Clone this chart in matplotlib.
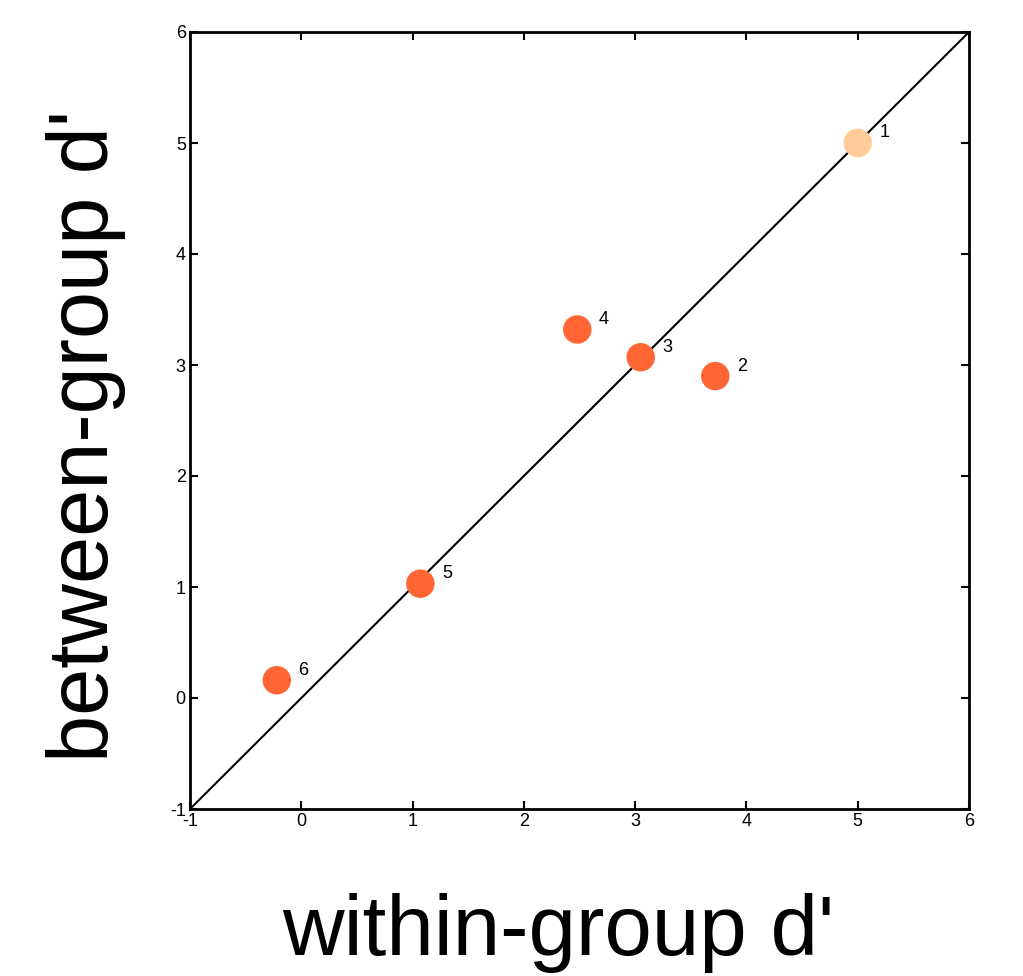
import numpy as np
import matplotlib.pyplot as plt

plt.rcParams['font.family'] = ['Liberation Sans', 'DejaVu Sans']

# values
ids = ['1', '2', '3', '4', '5', '6']
within_d = [5.00, 3.72, 3.05, 2.48, 1.07, -0.22]
between_d = [5.00, 2.90, 3.07, 3.32, 1.03, 0.16]
colors = ['#FFCC99', '#FF6633', '#FF6633', '#FF6633', '#FF6633', '#FF6633']
ticks = [-1, 0, 1, 2, 3, 4, 5, 6]

W, H = 1023, 976
fig = plt.figure(figsize=(W / 100, H / 100), dpi=100)
ax = fig.add_axes([190 / W, 1 - 809 / H, 779 / W, 777 / H])

ax.plot([-1, 6], [-1, 6], color='black', lw=1.5, zorder=1)
ax.scatter(within_d, between_d, s=420, c=colors, edgecolors='none', zorder=2)
for x, y, t in zip(within_d, between_d, ids):
    ax.annotate(t, (x, y), xytext=(15.5, 4), textcoords='offset points',
                fontsize=13, color='black', ha='left', va='baseline')

ax.set_xlim(-1, 6)
ax.set_ylim(-1, 6)
ax.set_xticks(ticks)
ax.set_yticks(ticks)
ax.set_xticklabels([str(t) for t in ticks])
ax.set_yticklabels([str(t) for t in ticks])
ax.tick_params(direction='in', length=6, width=1.5, labelsize=13,
               top=True, right=True, pad=3)
for s in ax.spines.values():
    s.set_linewidth(2)

# axis titles placed like the reference (not centred on the axes)
fig.text(558 / W, 1 - 955 / H, "within-group d'", fontsize=61.5,
         ha='center', va='baseline')
fig.text(108 / W, 1 - 436 / H, "between-group d'", fontsize=61,
         rotation=90, rotation_mode='anchor', ha='center', va='baseline')

fig.savefig('out.png', dpi=100)
